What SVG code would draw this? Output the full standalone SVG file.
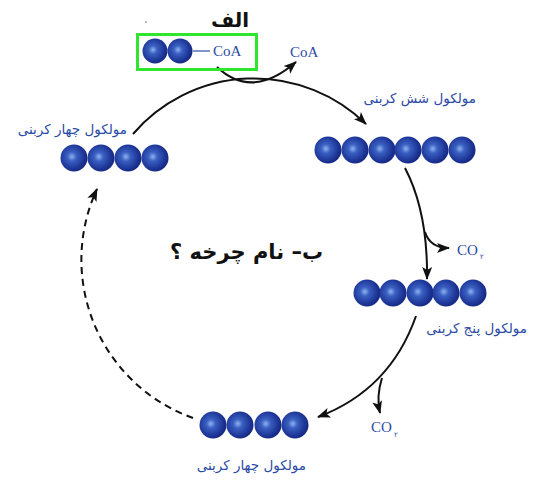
<svg xmlns="http://www.w3.org/2000/svg" width="542" height="483" viewBox="0 0 542 483">
<defs>
<radialGradient id="ball" cx="0.42" cy="0.45" r="0.6">
<stop offset="0" stop-color="#8fb2ee"/>
<stop offset="0.28" stop-color="#3a60c2"/>
<stop offset="0.75" stop-color="#1d3697"/>
<stop offset="1" stop-color="#15257c"/>
</radialGradient>
<marker id="ah" markerUnits="userSpaceOnUse" markerWidth="14" markerHeight="12" refX="12" refY="5" orient="auto" viewBox="0 0 14 10">
<path d="M0,0 L13,5 L0,10 L3,5 z" fill="#111"/>
</marker>
</defs>
<style>
.b{fill:url(#ball)}
.lbl{font-family:"DejaVu Sans",sans-serif;font-size:13.5px;fill:#2b4aa6}
.coa{font-family:"Liberation Serif",serif;font-size:15px;fill:#2b4aa6}
.sub{font-family:"DejaVu Sans",sans-serif;font-size:7px;fill:#2b4aa6}
.c{fill:none;stroke:#111;stroke-width:2}
.d{fill:none;stroke:#111;stroke-width:2;stroke-dasharray:7,5}
.t{font-family:"DejaVu Sans",sans-serif;font-weight:bold;fill:#111}
</style>
<rect width="542" height="483" fill="#fff"/>
<g id="connectors">
<path class="c" d="M133,134 A160,160 0 0 1 366,124" marker-end="url(#ah)"/>
<path class="c" d="M217,67 Q252,100 296,62" marker-end="url(#ah)"/>
<path class="c" d="M405,168 Q428,212 427,279" marker-end="url(#ah)"/>
<path class="c" d="M425,232 Q430,248 449,248" marker-end="url(#ah)"/>
<path class="c" d="M416,316 Q390,390 318,417" marker-end="url(#ah)"/>
<path class="c" d="M382,378 Q376,397 380,413" marker-end="url(#ah)"/>
<path class="d" d="M193,418 A168,168 0 0 1 97,189" marker-end="url(#ah)"/>
</g>
<g id="acetylCoA">
<rect x="137.5" y="34.5" width="119" height="35" fill="none" stroke="#2ee62e" stroke-width="3"/>
<circle class="b" cx="155" cy="51" r="12.5"/>
<circle class="b" cx="180" cy="51" r="12.5"/>
<line x1="193" y1="51" x2="210" y2="51" stroke="#2b4aa6" stroke-width="1.2"/>
<text class="coa" x="213" y="56">CoA</text>
</g>
<g id="label-alef">
<text class="t" x="211" y="27" font-size="20" text-anchor="end" direction="rtl">الف</text>
<circle cx="146" cy="22" r="0.8" fill="#666"/>
</g>
<g id="coa-out">
<text class="coa" x="290" y="57">CoA</text>
</g>
<g id="six-carbon">
<circle class="b" cx="328" cy="150" r="13.5"/>
<circle class="b" cx="355" cy="150" r="13.5"/>
<circle class="b" cx="382" cy="150" r="13.5"/>
<circle class="b" cx="408" cy="150" r="13.5"/>
<circle class="b" cx="435" cy="150" r="13.5"/>
<circle class="b" cx="462" cy="150" r="13.5"/>
<text class="lbl" x="476" y="103" text-anchor="start" direction="rtl">مولکول شش کربنی</text>
</g>
<g id="co2-1">
<text class="coa" x="457" y="255">CO</text>
<text class="sub" x="480" y="259">۲</text>
</g>
<g id="five-carbon">
<circle class="b" cx="367" cy="293" r="13.5"/>
<circle class="b" cx="393" cy="293" r="13.5"/>
<circle class="b" cx="420" cy="293" r="13.5"/>
<circle class="b" cx="446" cy="293" r="13.5"/>
<circle class="b" cx="473" cy="293" r="13.5"/>
<text class="lbl" x="527" y="333" text-anchor="start" direction="rtl">مولکول پنج کربنی</text>
</g>
<g id="co2-2">
<text class="coa" x="371" y="432">CO</text>
<text class="sub" x="394" y="437">۲</text>
</g>
<g id="four-carbon-bottom">
<circle class="b" cx="213" cy="425" r="13.5"/>
<circle class="b" cx="240" cy="425" r="13.5"/>
<circle class="b" cx="268" cy="425" r="13.5"/>
<circle class="b" cx="295" cy="425" r="13.5"/>
<text class="lbl" x="306" y="470" text-anchor="start" direction="rtl">مولکول چهار کربنی</text>
</g>
<g id="four-carbon-top">
<circle class="b" cx="74" cy="158" r="13.5"/>
<circle class="b" cx="101" cy="158" r="13.5"/>
<circle class="b" cx="128" cy="158" r="13.5"/>
<circle class="b" cx="155" cy="158" r="13.5"/>
<text class="lbl" x="127" y="134" text-anchor="start" direction="rtl">مولکول چهار کربنی</text>
</g>
<g id="cycle-name">
<text class="t" x="323" y="259" font-size="21" text-anchor="start" direction="rtl">ب– نام چرخه ؟</text>
</g>
</svg>
